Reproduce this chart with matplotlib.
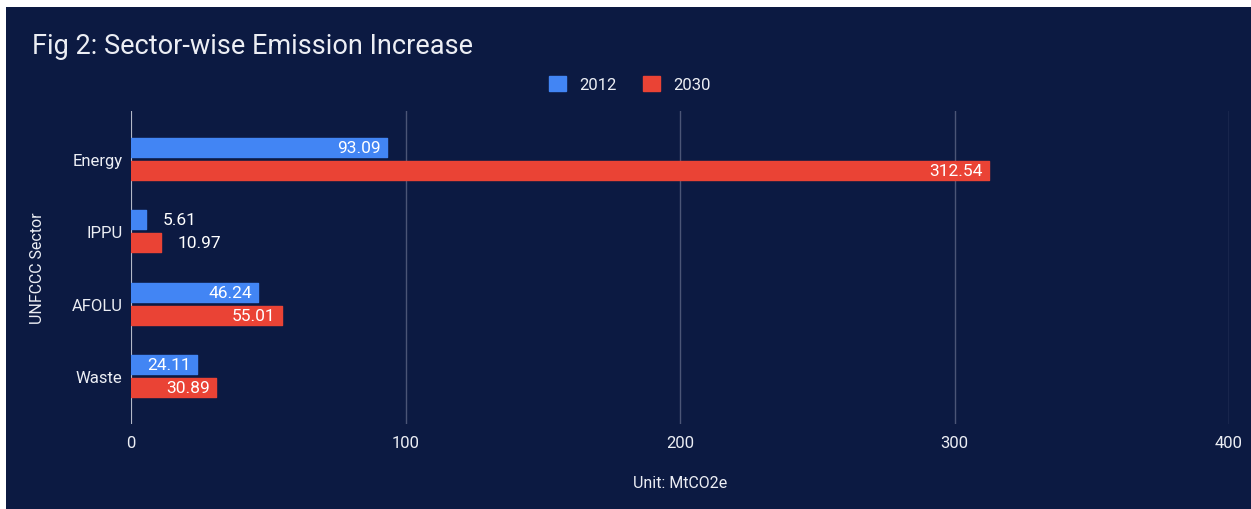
import matplotlib.pyplot as plt
import numpy as np
from matplotlib.patches import Rectangle

plt.rcParams['font.family'] = ['Roboto', 'DejaVu Sans']

sectors = ['Energy', 'IPPU', 'AFOLU', 'Waste']
years = ['2012', '2030']
values_2012 = [93.09, 5.61, 46.24, 24.11]
values_2030 = [312.54, 10.97, 55.01, 30.89]
x_ticks = [0, 100, 200, 300, 400]

bg = '#0c1a42'
text_col = '#eceef4'
colors = ['#4285f4', '#ea4335']

fig = plt.figure(figsize=(12.51, 5.10), dpi=100)
fig.patch.set_facecolor('white')
# dark card with a thin white margin on the top and left
fig.patches.append(Rectangle((6 / 1251, 0), 1, 502 / 510, transform=fig.transFigure,
                             facecolor=bg, edgecolor='none', zorder=-5))

ax = fig.add_axes([131 / 1251, 85 / 510, 1098 / 1251, 313 / 510])
ax.set_facecolor(bg)

y = np.arange(len(sectors))
h = 0.26
off = 0.16
ax.barh(y - off, values_2012, height=h, color=colors[0], label=years[0], zorder=3,
        edgecolor=colors[0], linewidth=1, joinstyle='round')
ax.barh(y + off, values_2030, height=h, color=colors[1], label=years[1], zorder=3,
        edgecolor=colors[1], linewidth=1, joinstyle='round')

# value labels: inside the bar when it fits, otherwise just to its right
for vals, dy in [(values_2012, -off), (values_2030, off)]:
    for i, v in enumerate(vals):
        if v > 20:
            ax.annotate(f'{v:.2f}', (v, i + dy), xytext=(-4.5, 0), textcoords='offset points',
                        ha='right', va='center', color='white', fontsize=12.5, zorder=4)
        else:
            ax.annotate(f'{v:.2f}', (v, i + dy), xytext=(12, 0), textcoords='offset points',
                        ha='left', va='center', color='white', fontsize=12.5, zorder=4)

ax.set_xlim(0, 400)
ax.set_ylim(3.662, -0.662)
ax.set_xticks(x_ticks)
ax.set_yticks(y)
ax.set_yticklabels(sectors)
ax.tick_params(axis='both', length=0, colors=text_col, labelsize=12)
ax.tick_params(axis='x', pad=8)
ax.tick_params(axis='y', pad=6)
ax.grid(axis='x', color='#4b5576', linewidth=1, zorder=0)
ax.axvline(0, color='#c8ccd8', linewidth=1.2, zorder=2)
for s in ax.spines.values():
    s.set_visible(False)

ax.set_xlabel('Unit: MtCO2e', color=text_col, fontsize=11.5, labelpad=18)
ax.set_ylabel('UNFCCC Sector', color=text_col, fontsize=11.5, labelpad=19)

fig.text(32 / 1251, 1 - 46 / 510, 'Fig 2: Sector-wise Emission Increase', color=text_col,
         fontsize=19.5, va='center', ha='left')

leg = fig.legend(loc='center', bbox_to_anchor=(630 / 1251, 1 - 85 / 510), ncol=2, frameon=False,
                 fontsize=12, labelcolor=text_col, handlelength=1.0, handleheight=1.0,
                 handletextpad=0.8, columnspacing=1.6)

fig.savefig('out.png', dpi=100, facecolor=fig.get_facecolor())
